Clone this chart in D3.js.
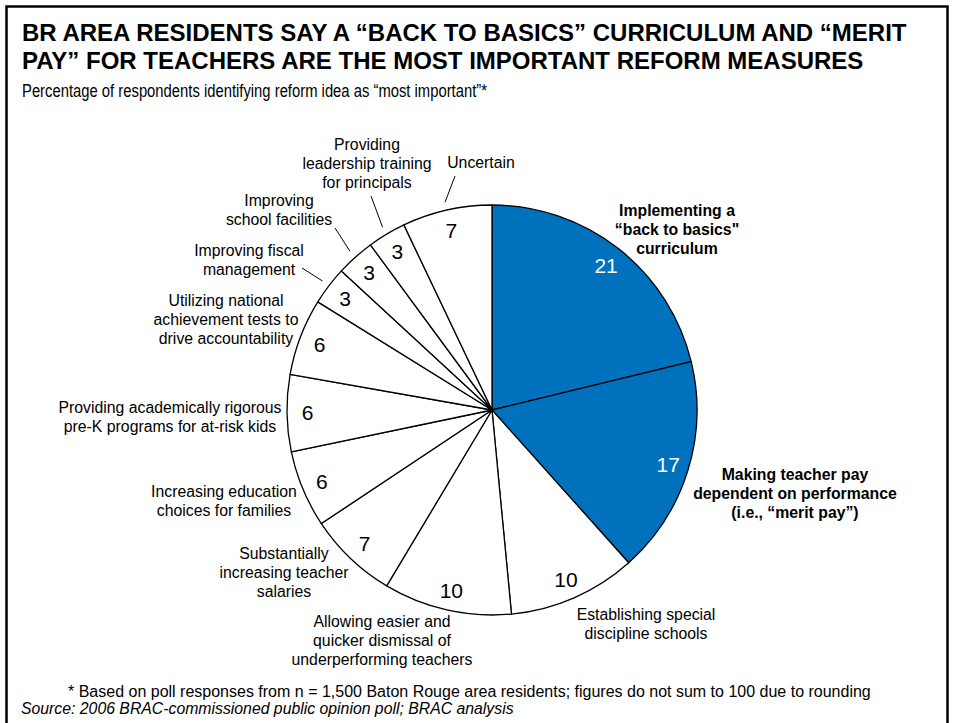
<!DOCTYPE html>
<html>
<head>
<meta charset="utf-8">
<script src="https://cdn.jsdelivr.net/npm/d3@7"></script>
<style>
  html, body { margin: 0; padding: 0; background: #fff; }
  svg { display: block; font-family: "Liberation Sans", Arial, sans-serif; }
</style>
</head>
<body>
<svg id="chart" width="954" height="723"></svg>
<script>
// Reform ideas, clockwise from 12 o'clock
const categories = [
  "Implementing a “back to basics\" curriculum",
  "Making teacher pay dependent on performance (i.e., “merit pay”)",
  "Establishing special discipline schools",
  "Allowing easier and quicker dismissal of underperforming teachers",
  "Substantially increasing teacher salaries",
  "Increasing education choices for families",
  "Providing academically rigorous pre-K programs for at-risk kids",
  "Utilizing national achievement tests to drive accountability",
  "Improving fiscal management",
  "Improving school facilities",
  "Providing leadership training for principals",
  "Uncertain"
];
// Percent naming each idea "most important"
const values = [21, 17, 10, 10, 7, 6, 6, 6, 3, 3, 3, 7];
// Wrapped label text for each slice
const labelLines = [
  ["Implementing a", "“back to basics\"", "curriculum"],
  ["Making teacher pay", "dependent on performance", "(i.e., “merit pay”)"],
  ["Establishing special", "discipline schools"],
  ["Allowing easier and", "quicker dismissal of", "underperforming teachers"],
  ["Substantially", "increasing teacher", "salaries"],
  ["Increasing education", "choices for families"],
  ["Providing academically rigorous", "pre-K programs for at-risk kids"],
  ["Utilizing national", "achievement tests to", "drive accountability"],
  ["Improving fiscal", "management"],
  ["Improving", "school facilities"],
  ["Providing", "leadership training", "for principals"],
  ["Uncertain"]
];
const highlighted = ["Implementing a “back to basics\" curriculum",
  "Making teacher pay dependent on performance (i.e., “merit pay”)"];

const titleLines = [
  "BR AREA RESIDENTS SAY A “BACK TO BASICS” CURRICULUM AND “MERIT",
  "PAY” FOR TEACHERS ARE THE MOST IMPORTANT REFORM MEASURES"
];
const subtitle = "Percentage of respondents identifying reform idea as “most important”*";
const footnote = "* Based on poll responses from n = 1,500 Baton Rouge area residents; figures do not sum to 100 due to rounding";
const source = "Source: 2006 BRAC-commissioned public opinion poll; BRAC analysis";

// ---- layout ----
const svg = d3.select("#chart");
const cx = 492, cy = 410, R = 205;
const blue = "#0071bc";
const labelSize = 15.8, lineGap = 19;

// Label block placement: centre x and first baseline; optional leader start
const labelPlace = [
  { x: 677, y: 216, bold: true },
  { x: 795, y: 480, bold: true },
  { x: 646, y: 620 },
  { x: 382, y: 627 },
  { x: 284, y: 559 },
  { x: 224, y: 497 },
  { x: 170, y: 413 },
  { x: 226, y: 306 },
  { x: 249, y: 256, leader: [302, 268] },
  { x: 279, y: 206, leader: [335, 228] },
  { x: 367, y: 150, leader: [371, 196] },
  { x: 481, y: 168, leader: [455, 176] }
];

// frame
svg.append("path")
  .attr("d", "M6.5,730 L6.5,6.5 L947.5,6.5 L947.5,730")
  .attr("fill", "none").attr("stroke", "#000").attr("stroke-width", 2.5);

// titles
svg.append("g").selectAll("text").data(titleLines).join("text")
  .attr("x", 22).attr("y", (d, i) => 41 + i * 28)
  .attr("font-size", 24).attr("font-weight", "bold").attr("fill", "#000")
  .text(d => d);
svg.append("text").attr("x", 22).attr("y", 97)
  .attr("font-size", 17.5).attr("fill", "#000")
  .attr("textLength", 465).attr("lengthAdjust", "spacingAndGlyphs")
  .text(subtitle);

// pie
const pie = d3.pie().sort(null).value(d => d.value);
const arcs = pie(values.map((v, i) => ({ value: v, name: categories[i], lines: labelLines[i], place: labelPlace[i] })));
const arc = d3.arc().innerRadius(0).outerRadius(R);
const labelArc = d3.arc().innerRadius(R * 0.9).outerRadius(R * 0.9);
const isHi = d => highlighted.includes(d.data.name);

const g = svg.append("g").attr("transform", `translate(${cx},${cy})`);
g.selectAll("path.slice").data(arcs).join("path")
  .attr("class", "slice")
  .attr("d", arc)
  .attr("fill", d => isHi(d) ? blue : "#fff")
  .attr("stroke", "#000").attr("stroke-width", 1.3)
  .attr("stroke-linejoin", "round");

g.selectAll("text.val").data(arcs).join("text")
  .attr("class", "val")
  .attr("transform", d => `translate(${labelArc.centroid(d)})`)
  .attr("text-anchor", "middle").attr("dy", "0.36em")
  .attr("font-size", 21)
  .attr("fill", d => isHi(d) ? "#fff" : "#000")
  .text(d => d.data.value);

// leader lines: from label toward slice midpoint just outside the rim
const mid = d => (d.startAngle + d.endAngle) / 2;
svg.append("g").selectAll("line").data(arcs.filter(d => d.data.place.leader)).join("line")
  .attr("x1", d => d.data.place.leader[0]).attr("y1", d => d.data.place.leader[1])
  .attr("x2", d => cx + (R + 8) * Math.sin(mid(d)))
  .attr("y2", d => cy - (R + 8) * Math.cos(mid(d)))
  .attr("stroke", "#000").attr("stroke-width", 1);

// category labels
const lab = svg.append("g").selectAll("text").data(arcs).join("text")
  .attr("text-anchor", "middle")
  .attr("font-size", labelSize)
  .attr("font-weight", d => d.data.place.bold ? "bold" : "normal")
  .attr("fill", "#000");
lab.selectAll("tspan").data(d => d.data.lines.map(l => ({ l, p: d.data.place }))).join("tspan")
  .attr("x", d => d.p.x)
  .attr("y", (d, i) => d.p.y + i * lineGap)
  .text(d => d.l);

// notes
svg.append("text").attr("x", 68).attr("y", 697)
  .attr("font-size", 16).attr("fill", "#000").text(footnote);
svg.append("text").attr("x", 21).attr("y", 714)
  .attr("font-size", 15.8).attr("font-style", "italic").attr("fill", "#000").text(source);
</script>
</body>
</html>
